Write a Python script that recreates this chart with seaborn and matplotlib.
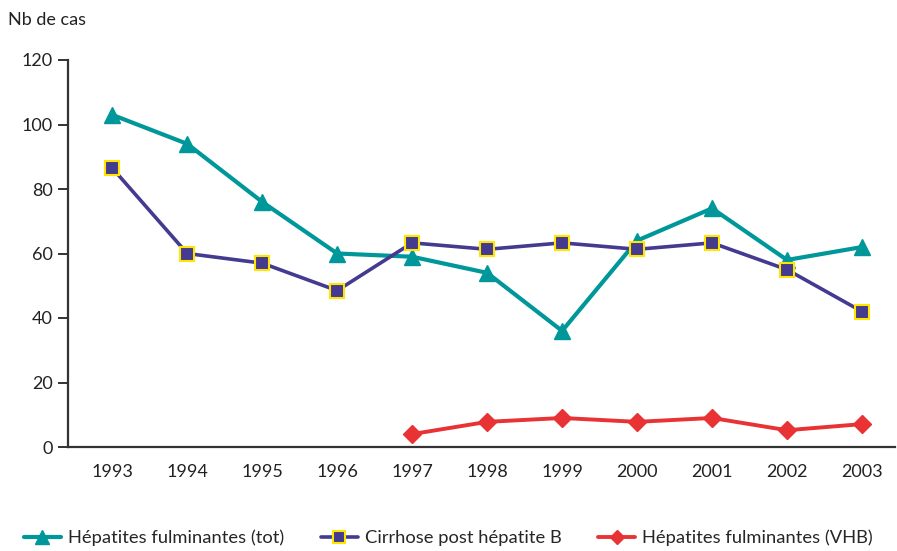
import numpy as np
import pandas as pd
import matplotlib
matplotlib.use("Agg")
import matplotlib.pyplot as plt
import seaborn as sns

years = [1993, 1994, 1995, 1996, 1997, 1998, 1999, 2000, 2001, 2002, 2003]
hep_fulm_tot = [103, 94, 76, 60, 59, 54, 36, 64, 74, 58, 62]
cirrhose_b = [86.5, 60, 57, 48.5, 63.3, 61.3, 63.3, 61.3, 63.3, 55, 42]
hep_fulm_vhb = [np.nan, np.nan, np.nan, np.nan, 4, 7.8, 9, 7.8, 9, 5.2, 7.1]

labels = ["Hépatites fulminantes (tot)", "Cirrhose post hépatite B",
          "Hépatites fulminantes (VHB)"]

df = pd.DataFrame({
    "annee": years * 3,
    "cas": hep_fulm_tot + cirrhose_b + hep_fulm_vhb,
    "serie": [labels[0]] * 11 + [labels[1]] * 11 + [labels[2]] * 11,
})

sns.set_style("white")
plt.rcParams["font.family"] = ["Lato", "DejaVu Sans"]

fig = plt.figure(figsize=(8.97, 5.51), dpi=100)
ax = fig.add_axes([68 / 897, 1 - 447 / 551, (895 - 68) / 897, (447 - 60) / 551])

styles = {
    labels[0]: dict(color="#00979A", marker="^", markersize=12, mec="#00979A", mew=1, lw=3.0),
    labels[1]: dict(color="#443A8F", marker="s", markersize=10.5, mec="#FFE600", mew=1.5, lw=2.6),
    labels[2]: dict(color="#E83234", marker="D", markersize=9, mec="#E83234", mew=1, lw=2.8),
}

for lab in labels:
    sub = df[df["serie"] == lab].dropna()
    st = styles[lab]
    sns.lineplot(data=sub, x="annee", y="cas", ax=ax, color=st["color"],
                 linewidth=st["lw"], marker=st["marker"], markersize=st["markersize"],
                 markeredgecolor=st["mec"], markeredgewidth=st["mew"],
                 label=lab, legend=False)

ax.set_xlim(1992.41, 2003.44)
ax.set_ylim(0, 120)
ax.set_xticks(years)
ax.set_yticks(range(0, 121, 20))
ax.set_xlabel("")
ax.set_ylabel("")
for s in ["top", "right"]:
    ax.spines[s].set_visible(False)
for s in ["left", "bottom"]:
    ax.spines[s].set_color("#333333")
    ax.spines[s].set_linewidth(1.6)
ax.tick_params(axis="y", which="both", left=True, length=7, width=1.4,
               color="#333333", labelsize=13, labelcolor="#222222", pad=4)
ax.tick_params(axis="x", bottom=False, labelsize=13, labelcolor="#222222", pad=9)

fig.text(8 / 897, 1 - 20 / 551, "Nb de cas", fontsize=13, color="#222222",
         va="center", ha="left")

handles, labs = ax.get_legend_handles_labels()
fig.legend(handles, labs, loc="center", bbox_to_anchor=(0.5, 1 - 538 / 551),
           ncol=3, frameon=False, fontsize=13.2, handlelength=2.0,
           columnspacing=2.0, handletextpad=0.4, markerscale=0.8,
           borderaxespad=0, borderpad=0)

fig.savefig("out.png", dpi=100)
